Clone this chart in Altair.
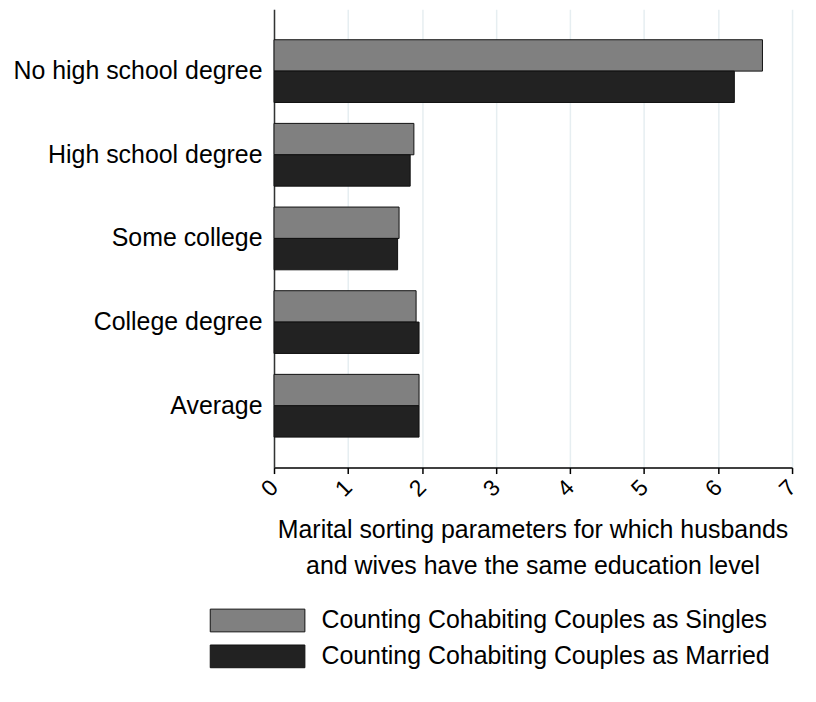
import altair as alt
import pandas as pd

categories = ["No high school degree", "High school degree", "Some college", "College degree", "Average"]
series_names = ["Counting Cohabiting Couples as Singles", "Counting Cohabiting Couples as Married"]
singles = [6.60, 1.89, 1.69, 1.92, 1.96]
married = [6.22, 1.84, 1.67, 1.96, 1.96]
x_ticks = [0, 1, 2, 3, 4, 5, 6, 7]

rows = []
for c, s, m in zip(categories, singles, married):
    rows.append({"cat": c, "series": series_names[0], "value": s})
    rows.append({"cat": c, "series": series_names[1], "value": m})
df = pd.DataFrame(rows)

FONT = "Liberation Sans"

chart = alt.Chart(df).mark_bar(stroke="#111111", strokeWidth=1).encode(
    y=alt.Y("cat:N", sort=categories,
            scale=alt.Scale(paddingInner=0.25, paddingOuter=0.364),
            axis=alt.Axis(title=None, ticks=False, labelFontSize=25, labelFont=FONT,
                          labelColor="#000000", labelPadding=12, domainColor="#333333",
                          domainWidth=1.5, grid=False, labelLimit=400)),
    yOffset=alt.YOffset("series:N", sort=series_names,
                        scale=alt.Scale(paddingInner=0, paddingOuter=0)),
    x=alt.X("value:Q", scale=alt.Scale(domain=[0, 7], nice=False, zero=True),
            axis=alt.Axis(values=x_ticks, format="d", labelAngle=315, labelAlign="right",
                          labelBaseline="middle", labelFontSize=23, labelFont=FONT,
                          labelColor="#000000", labelPadding=10, tickSize=6, tickColor="#000000",
                          tickWidth=1.5, domainColor="#000000", domainWidth=1.5,
                          grid=True, gridColor="#e6eef1", gridWidth=1.5,
                          title=["Marital sorting parameters for which husbands",
                                 "and wives have the same education level"],
                          titleFont=FONT, titleFontSize=25, titleFontWeight="normal",
                          titleColor="#000000", titleLineHeight=36,
                          titleBaseline="alphabetic", titleAlign="center",
                          titleX=259.5, titleY=70)),
    color=alt.Color("series:N", sort=series_names,
                    scale=alt.Scale(domain=series_names, range=["#808080", "#222222"]),
                    legend=alt.Legend(title=None, orient="none", legendX=-29, legendY=601,
                                      symbolType="M-4,-0.96H4V0.96H-4Z", symbolSize=564,
                                      symbolStrokeColor="#111111", symbolStrokeWidth=1,
                                      symbolOpacity=1,
                                      labelFont=FONT, labelFontSize=25, labelColor="#000000",
                                      labelOffset=51.6, rowPadding=9, padding=0, labelLimit=600)),
).properties(
    width=520, height=460,
    autosize=alt.AutoSizeParams(type="none"),
    padding={"left": 267, "top": 0, "right": 16, "bottom": 230},
).configure_view(stroke=None)

chart.save("out.html", embed_options={"renderer": "svg", "actions": False})
